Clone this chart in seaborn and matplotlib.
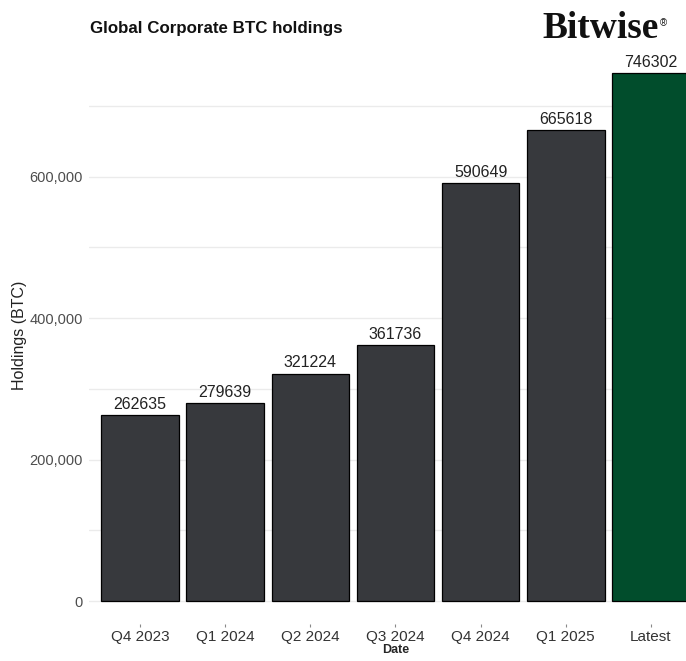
import matplotlib
matplotlib.use("Agg")
import matplotlib.pyplot as plt
import matplotlib.ticker as mticker
import seaborn as sns
import pandas as pd

categories = ["Q4 2023", "Q1 2024", "Q2 2024", "Q3 2024", "Q4 2024", "Q1 2025", "Latest"]
holdings = [262635, 279639, 321224, 361736, 590649, 665618, 746302]
bar_colors = ["#37393d", "#37393d", "#37393d", "#37393d", "#37393d", "#37393d", "#014d2c"]
major_ticks = [0, 200000, 400000, 600000]
minor_ticks = [100000, 300000, 500000, 700000]

sns.set_theme(style="white")
plt.rcParams["font.family"] = ["Liberation Sans", "DejaVu Sans"]

df = pd.DataFrame({"Date": categories, "Holdings": holdings})

W, H = 686, 661
fig = plt.figure(figsize=(W / 100, H / 100), dpi=100)
ax = fig.add_axes([89 / W, (H - 624) / H, (702 - 89) / W, (624 - 46.6) / H])

sns.barplot(data=df, x="Date", y="Holdings", hue="Date", palette=bar_colors,
            legend=False, width=0.91, edgecolor="black", linewidth=0.9,
            saturation=1, ax=ax)

ax.set_xlim(-0.6, len(categories) - 0.4)
ax.set_ylim(-32500, 783617)
ax.set_yticks(major_ticks)
ax.set_yticks(minor_ticks, minor=True)
ax.yaxis.set_major_formatter(mticker.FuncFormatter(lambda v, p: f"{int(v):,}"))
ax.grid(True, axis="y", which="both", color="#ebebeb", linewidth=1.0)
ax.set_axisbelow(True)
for s in ax.spines.values():
    s.set_visible(False)

ax.tick_params(axis="y", which="both", length=0, pad=4.5, labelsize=10.5, labelcolor="#4d4d4d")
ax.tick_params(axis="x", length=2.5, width=0.8, color="#888888", pad=1.5, labelsize=11,
               labelcolor="#333333", bottom=True)

ax.set_xlabel("Date", fontsize=9, fontweight="bold", labelpad=0)
ax.set_ylabel("Holdings (BTC)", fontsize=11.5, color="#222222")
ax.yaxis.set_label_coords(-0.101, 0.5)

for i, v in enumerate(holdings):
    ax.annotate(str(v), xy=(i, v), xytext=(0, 2.5), textcoords="offset points",
                ha="center", va="bottom", fontsize=11.5, color="#222222")

fig.text(90 / W, 1 - 33 / H, "Global Corporate BTC holdings", fontsize=12.2,
         fontweight="bold", ha="left", va="baseline", color="#111111")
fig.text(542 / W, 1 - 38 / H, "Bitwise", fontsize=27, fontweight="bold",
         family=["Liberation Serif", "DejaVu Serif"], ha="left", va="baseline", color="#111111")
fig.text(660 / W, 1 - 26 / H, "®", fontsize=7, ha="left", va="baseline", color="#111111")

fig.savefig("out.png", dpi=100)
